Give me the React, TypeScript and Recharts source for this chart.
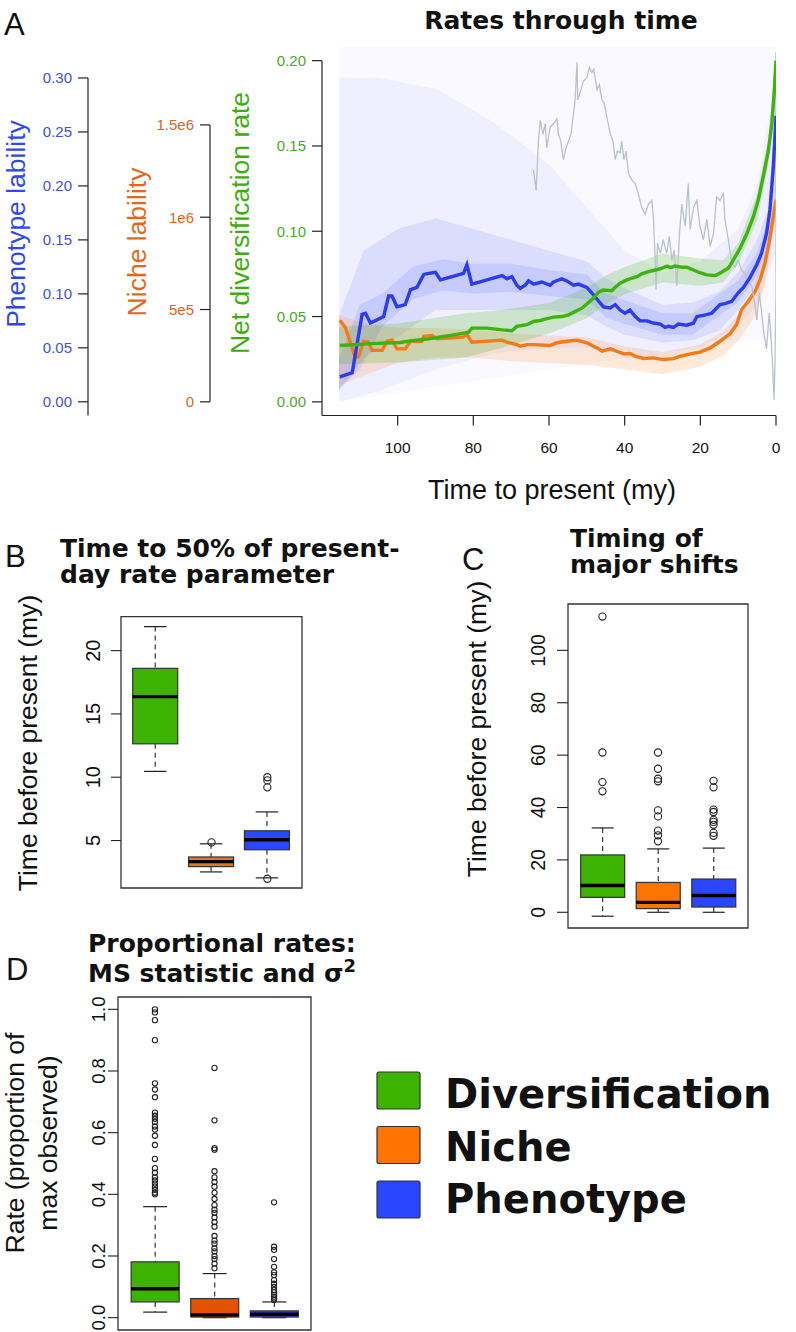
import React from 'react';
import { ComposedChart, Line, Area, Bar, Scatter, XAxis, YAxis, ReferenceArea } from 'recharts';

const GREEN = '#3cb300';
const ORANGE = '#ff7400';
const BLUE = '#2a46ff';
const GRAY = '#b9c1cc';

// ---- panel A: rates through time, [time (my), value] ----
const phenotypeRate: [number, number][] = [
  [115.3, 0.023], [112.0, 0.027], [109.4, 0.081], [108.5, 0.082], [107.2, 0.073], [103.7, 0.079],
  [102.4, 0.098], [101.5, 0.098], [100.2, 0.088], [98.0, 0.09], [96.6, 0.104], [94.9, 0.106],
  [93.1, 0.118], [91.8, 0.119], [90.0, 0.12], [88.7, 0.113], [85.6, 0.116], [82.6, 0.119],
  [81.7, 0.127], [80.4, 0.109], [77.3, 0.112], [72.4, 0.117], [71.1, 0.114], [69.8, 0.116],
  [68.5, 0.108], [67.6, 0.105], [66.3, 0.108], [65.4, 0.112], [64.1, 0.109], [61.9, 0.111],
  [59.7, 0.108], [58.8, 0.111], [56.6, 0.114], [55.3, 0.112], [53.5, 0.108], [52.2, 0.109],
  [50.0, 0.106], [48.7, 0.101], [47.3, 0.095], [45.6, 0.088], [43.8, 0.087], [42.5, 0.09],
  [41.2, 0.085], [39.9, 0.082], [38.6, 0.085], [37.2, 0.079], [35.9, 0.075], [34.1, 0.075],
  [32.4, 0.073], [30.6, 0.072], [29.3, 0.069], [28.4, 0.07], [27.1, 0.069], [25.8, 0.072],
  [23.6, 0.071], [21.8, 0.073], [20.9, 0.079], [19.2, 0.08], [17.0, 0.082], [14.8, 0.09],
  [13.5, 0.091], [11.7, 0.093], [10.0, 0.101], [8.6, 0.106], [6.9, 0.115], [5.1, 0.127],
  [3.8, 0.138], [2.5, 0.156], [1.6, 0.178], [0.7, 0.218], [0, 0.265],
];

const nicheRate: [number, number][] = [
  [115.3, 442000], [113.8, 401000], [112.5, 320000], [111.2, 238000], [110.3, 247000], [109.0, 328000],
  [107.7, 323000], [106.8, 279000], [104.1, 279000], [102.8, 328000], [101.5, 334000], [100.2, 287000],
  [98.0, 287000], [96.6, 328000], [93.6, 328000], [93.1, 355000], [90.9, 359000], [89.6, 341000],
  [85.6, 347000], [82.6, 352000], [81.7, 364000], [80.4, 323000], [72.4, 334000], [71.1, 323000],
  [68.5, 310000], [67.6, 301000], [65.8, 310000], [64.1, 310000], [59.7, 305000], [57.9, 320000],
  [55.3, 328000], [52.6, 334000], [50.0, 320000], [47.3, 292000], [46.0, 274000], [43.8, 287000],
  [42.1, 274000], [40.3, 260000], [38.6, 262000], [37.2, 247000], [35.0, 235000], [32.4, 238000],
  [29.8, 229000], [27.1, 234000], [25.3, 247000], [22.7, 260000], [20.1, 269000], [17.4, 292000],
  [14.8, 328000], [12.1, 370000], [10.4, 419000], [9.1, 500000], [7.3, 545000], [5.5, 599000],
  [4.2, 662000], [2.9, 753000], [2.0, 843000], [1.1, 951000], [0, 1095000],
];

const diversificationRate: [number, number][] = [
  [115.3, 0.0331], [111.6, 0.0335], [107.2, 0.0341], [102.8, 0.0345], [99.3, 0.0348], [95.8, 0.036],
  [92.2, 0.0368], [88.7, 0.038], [85.2, 0.0393], [82.6, 0.0403], [81.3, 0.0407], [80.4, 0.0432],
  [76.4, 0.0432], [72.4, 0.0422], [69.8, 0.0417], [68.5, 0.0442], [65.8, 0.0452], [64.1, 0.0471],
  [62.3, 0.0477], [61.0, 0.0485], [58.8, 0.0497], [56.6, 0.05], [54.8, 0.051], [53.1, 0.0529],
  [51.3, 0.0549], [50.0, 0.0574], [48.2, 0.0608], [46.9, 0.0643], [45.6, 0.0656], [43.4, 0.0652],
  [42.5, 0.0672], [41.2, 0.0695], [39.4, 0.0715], [38.1, 0.0725], [36.7, 0.0734], [35.5, 0.075],
  [33.7, 0.0763], [31.9, 0.0773], [30.2, 0.0783], [28.8, 0.0796], [27.9, 0.0787], [26.7, 0.0796],
  [24.9, 0.0789], [23.6, 0.0789], [21.8, 0.0773], [20.1, 0.0757], [18.3, 0.0744], [16.1, 0.074],
  [14.8, 0.0754], [13.5, 0.0773], [12.6, 0.0783], [11.3, 0.0831], [9.5, 0.09], [7.7, 0.0987],
  [6.0, 0.1084], [4.7, 0.1182], [3.4, 0.1318], [2.0, 0.1474], [1.1, 0.163], [0.5, 0.1805], [0, 0.2],
];

// grey background curve, read in diversification-axis units
const climateCurve: [number, number][] = [
  [64.1, 0.136], [63.4, 0.124], [62.8, 0.153], [62.3, 0.165], [61.6, 0.157], [61.0, 0.163], [60.6, 0.149],
  [59.7, 0.161], [58.8, 0.163], [57.9, 0.166], [57.5, 0.157], [56.9, 0.153], [56.2, 0.142], [55.5, 0.149],
  [54.8, 0.153], [54.2, 0.157], [53.5, 0.169], [53.1, 0.177], [52.6, 0.199], [52.4, 0.177], [51.8, 0.181],
  [50.9, 0.188], [50.0, 0.19], [49.3, 0.196], [48.7, 0.193], [48.2, 0.195], [47.3, 0.183], [46.7, 0.186],
  [46.0, 0.177], [45.4, 0.175], [44.7, 0.167], [43.8, 0.157], [43.1, 0.153], [42.5, 0.142], [41.9, 0.147],
  [41.2, 0.146], [40.8, 0.153], [40.2, 0.142], [39.6, 0.147], [39.0, 0.134], [38.1, 0.13], [37.2, 0.128],
  [36.4, 0.122], [35.5, 0.114], [34.6, 0.11], [33.7, 0.116], [32.8, 0.118], [32.4, 0.108], [32.0, 0.087],
  [31.7, 0.066], [31.3, 0.093], [30.6, 0.087], [29.8, 0.095], [28.9, 0.087], [28.2, 0.097], [27.5, 0.083],
  [26.9, 0.089], [26.2, 0.068], [25.5, 0.099], [24.9, 0.116], [24.0, 0.103], [23.2, 0.128], [22.7, 0.101],
  [21.8, 0.114], [20.9, 0.118], [20.1, 0.103], [19.2, 0.095], [18.3, 0.107], [17.4, 0.091], [16.5, 0.099],
  [15.7, 0.12], [14.8, 0.118], [13.9, 0.122], [13.5, 0.107], [12.6, 0.095], [11.7, 0.081], [10.8, 0.079],
  [10.0, 0.083], [9.1, 0.077], [8.2, 0.075], [7.3, 0.07], [6.4, 0.068], [5.5, 0.056], [5.1, 0.048],
  [4.4, 0.064], [3.8, 0.052], [3.2, 0.04], [2.5, 0.031], [1.8, 0.052], [1.4, 0.04], [0.9, 0.021],
  [0.5, 0.001], [0.3, 0.021], [0.0, 0.064], [0.0, 0.205],
];

// posterior density clouds, [time, low, high]
const phenotypeHaze: [number, number, number][] = [[115.5, 0.0, 0.3287], [60, 0.03, 0.3287], [0, 0.06, 0.3287]];
const phenotypeCloud: [number, number, number][] = [
  [115.5, 0.0, 0.3], [105, 0.01, 0.3], [90, 0.03, 0.29], [75, 0.045, 0.26], [60, 0.05, 0.22], [50, 0.05, 0.18],
  [40, 0.045, 0.14], [30, 0.04, 0.12], [20, 0.05, 0.13], [10, 0.07, 0.16], [5, 0.09, 0.2], [0, 0.14, 0.3],
];
const phenotypeCore: [number, number, number][] = [
  [115.5, 0.01, 0.08], [109, 0.04, 0.14], [100, 0.06, 0.16], [90, 0.085, 0.17], [80, 0.085, 0.16],
  [70, 0.085, 0.15], [60, 0.085, 0.14], [50, 0.08, 0.13], [45, 0.07, 0.115], [40, 0.062, 0.105],
  [30, 0.055, 0.09], [22, 0.057, 0.092], [15, 0.066, 0.102], [10, 0.085, 0.12], [5, 0.11, 0.15],
  [2, 0.14, 0.18], [0, 0.2, 0.28],
];
const phenotypeInner: [number, number, number][] = [
  [115.5, 0.012, 0.04], [110, 0.03, 0.09], [104, 0.07, 0.1], [96, 0.095, 0.125], [88, 0.103, 0.132],
  [80, 0.1, 0.128], [70, 0.102, 0.128], [60, 0.098, 0.122], [50, 0.095, 0.118], [45, 0.078, 0.1],
  [40, 0.072, 0.094], [30, 0.062, 0.082], [22, 0.062, 0.082], [15, 0.08, 0.1], [10, 0.092, 0.112],
  [5, 0.118, 0.138], [2, 0.148, 0.17], [0, 0.23, 0.27],
];
const nicheCloud: [number, number, number][] = [
  [115.5, 90000, 470000], [108, 150000, 420000], [100, 210000, 400000], [90, 240000, 400000],
  [80, 240000, 390000], [70, 220000, 370000], [60, 210000, 360000], [50, 200000, 350000],
  [40, 175000, 300000], [30, 150000, 270000], [20, 190000, 310000], [14, 250000, 380000],
  [10, 330000, 470000], [6, 450000, 620000], [3, 620000, 800000], [0, 1000000, 1170000],
];
const diversificationCloud: [number, number, number][] = [
  [115.5, 0.022, 0.044], [100, 0.023, 0.046], [82, 0.026, 0.052], [72, 0.032, 0.054], [60, 0.04, 0.058],
  [50, 0.049, 0.067], [45, 0.057, 0.074], [40, 0.063, 0.079], [30, 0.07, 0.087], [20, 0.068, 0.084],
  [14, 0.07, 0.083], [10, 0.081, 0.093], [5, 0.106, 0.122], [2, 0.139, 0.155], [0, 0.19, 0.205],
];

const timeTicks = [0, 20, 40, 60, 80, 100];
const phenotypeTicks = [0, 0.05, 0.1, 0.15, 0.2, 0.25, 0.3];
const nicheTicks = [0, 500000, 1000000, 1500000];
const nicheTickLabels = ['0', '5e5', '1e6', '1.5e6'];
const diversificationTicks = [0, 0.05, 0.1, 0.15, 0.2];

// ---- panels B, C, D: boxplots (Diversification, Niche, Phenotype) ----
const boxPositions = [1, 2, 3];

const halfLow = [10.46, 2.52, 2.05];
const halfQ1 = [12.64, 2.94, 4.27];
const halfMedian = [16.37, 3.33, 5.06];
const halfQ3 = [18.6, 3.7, 5.77];
const halfHigh = [21.9, 4.74, 7.26];
const halfOutliers = [[], [4.85], [10.0, 9.75, 9.2, 1.98]];
const halfTicks = [5, 10, 15, 20];

const shiftLow = [-1.5, 0, 0];
const shiftQ1 = [5.7, 1.4, 2.0];
const shiftMedian = [10.2, 3.8, 6.4];
const shiftQ3 = [21.9, 11.4, 12.7];
const shiftHigh = [32.2, 24.2, 24.5];
const shiftOutliers = [
  [112.9, 61.0, 49.7, 46.2],
  [61.0, 54.8, 51.0, 50.0, 38.9, 36.6, 31.2, 29.4, 27.1],
  [50.2, 47.7, 39.2, 38.3, 35.3, 34.5, 33.4, 30.3, 29.2],
];
const shiftTicks = [0, 20, 40, 60, 80, 100];

const propLow = [0.018, 0.0, 0.0];
const propQ1 = [0.051, 0.002, 0.002];
const propMedian = [0.094, 0.009, 0.011];
const propQ3 = [0.181, 0.062, 0.022];
const propHigh = [0.36, 0.143, 0.051];
const propOutliers = [
  [1.0, 0.99, 0.965, 0.9, 0.76, 0.74, 0.715, 0.665, 0.655, 0.645, 0.635, 0.62, 0.61, 0.59, 0.56, 0.515,
    0.485, 0.47, 0.455, 0.445, 0.435, 0.425, 0.415, 0.405, 0.4],
  [0.81, 0.64, 0.55, 0.545, 0.475, 0.455, 0.44, 0.425, 0.405, 0.385, 0.365, 0.35, 0.34, 0.325, 0.31,
    0.295, 0.265, 0.25, 0.24, 0.225, 0.215, 0.2, 0.19, 0.175, 0.16],
  [0.374, 0.23, 0.22, 0.19, 0.165, 0.147, 0.138, 0.122, 0.11, 0.1, 0.09, 0.082, 0.074, 0.068, 0.062, 0.057],
];
const propTicks = [0, 0.2, 0.4, 0.6, 0.8, 1.0];

const legendItems = ['Diversification', 'Niche', 'Phenotype'];

// ---- helpers ----
const toRows = (pts: [number, number][]) => pts.map(([t, v]) => ({ t, v }));
const toBand = (pts: [number, number, number][]) => pts.map(([t, lo, hi]) => ({ t, r: [lo, hi] }));

const A_TOP = 47;
const A_BOTTOM = 415.5;
const A_H = A_BOTTOM - A_TOP;
const PH_DOMAIN: [number, number] = [-0.0127, 0.3287];
const NI_DOMAIN: [number, number] = [-74000, 1922000];
const DV_DOMAIN: [number, number] = [-0.008, 0.208];

const sideTick = (color: string, fmt: (v: number) => string, domain: [number, number], top: number, toBottom: boolean) =>
  (p: any) => {
    const { x, y, payload } = p;
    const ax = x + 15;
    const v = payload.value;
    const ppu = A_H / (domain[1] - domain[0]);
    return (
      <g>
        <line x1={ax - 10} x2={ax} y1={y} y2={y} stroke="#222" strokeWidth={1.2} />
        <text x={x - 1} y={y} textAnchor="end" dominantBaseline="central" fill={color} fontSize={15}>
          {fmt(v)}
        </text>
        {v === 0 && (
          <line x1={ax} x2={ax} y1={y - (top - v) * ppu} y2={toBottom ? y + (v - domain[0]) * ppu : y} stroke="#222" strokeWidth={1.2} />
        )}
      </g>
    );
  };

const rotTick = (size: number, len: number, gap: number, fmt: (v: number) => string) => (p: any) => {
  const { x, y, payload } = p;
  return (
    <g>
      <line x1={x + gap} x2={x + gap + len} y1={y} y2={y} stroke="#222" strokeWidth={1.1} />
      <text transform={`translate(${x},${y}) rotate(-90)`} textAnchor="middle" fontSize={size} fill="#111">
        {fmt(payload.value)}
      </text>
    </g>
  );
};

const boxShape = (colors: string[], capFrac: number) => (p: any) => {
  const { x, y, width, height, payload, index } = p;
  const top = Math.min(y, y + height);
  const h = Math.abs(height);
  const { low, q1, med, q3, high } = payload;
  const k = h / (high - low);
  const py = (v: number) => top + (high - v) * k;
  const cx = x + width / 2;
  const cap = (width * capFrac) / 2;
  return (
    <g>
      <line x1={cx} x2={cx} y1={py(high)} y2={py(q3)} stroke="#222" strokeWidth={1.1} strokeDasharray="5 4" />
      <line x1={cx} x2={cx} y1={py(q1)} y2={py(low)} stroke="#222" strokeWidth={1.1} strokeDasharray="5 4" />
      <line x1={cx - cap} x2={cx + cap} y1={py(high)} y2={py(high)} stroke="#222" strokeWidth={1.2} />
      <line x1={cx - cap} x2={cx + cap} y1={py(low)} y2={py(low)} stroke="#222" strokeWidth={1.2} />
      <rect x={x} y={py(q3)} width={width} height={py(q1) - py(q3)} fill={colors[index]} stroke="#333" strokeWidth={1.2} />
      <line x1={x} x2={x + width} y1={py(med)} y2={py(med)} stroke="#000" strokeWidth={3.4} />
    </g>
  );
};

const circle = (r: number) => (p: any) => <circle cx={p.cx} cy={p.cy} r={r} fill="none" stroke="#222" strokeWidth={1.1} />;

type BoxProps = {
  left: number; top: number; width: number; height: number;
  margin: { top: number; right: number; bottom: number; left: number };
  axisWidth: number; domain: [number, number];
  low: number[]; q1: number[]; med: number[]; q3: number[]; high: number[];
  outliers: number[][]; ticks: number[]; fmt: (v: number) => string;
  colors: string[]; barSize: number; tickFont: number; tickLen: number; tickGap: number; r: number;
};

const BoxPanel = (b: BoxProps) => {
  const rows = boxPositions.map((pos, i) => ({
    pos, range: [b.low[i], b.high[i]], low: b.low[i], q1: b.q1[i], med: b.med[i], q3: b.q3[i], high: b.high[i],
  }));
  const pts = b.outliers.flatMap((vals, i) => vals.map((v) => ({ pos: boxPositions[i], v })));
  return (
    <div style={{ position: 'absolute', left: b.left, top: b.top }}>
      <ComposedChart width={b.width} height={b.height} data={rows} margin={b.margin}>
        <XAxis dataKey="pos" type="number" domain={[0.38, 3.62]} ticks={[1, 2, 3]} allowDataOverflow hide />
        <YAxis
          type="number" domain={b.domain} ticks={b.ticks} allowDataOverflow width={b.axisWidth}
          axisLine={false} tickLine={false} tickSize={b.tickLen} tickMargin={b.tickGap}
          tick={rotTick(b.tickFont, b.tickLen, b.tickGap, b.fmt)}
        />
        <ReferenceArea y1={b.domain[0]} y2={b.domain[1]} fill="none" stroke="#333" strokeWidth={1.3} ifOverflow="visible" />
        <Bar dataKey="range" barSize={b.barSize} isAnimationActive={false} shape={boxShape(b.colors, 0.5)} />
        <Scatter data={pts} dataKey="v" isAnimationActive={false} shape={circle(b.r)} />
      </ComposedChart>
    </div>
  );
};

const bold = '"DejaVu Sans", sans-serif';

const App = () => {
  const tf = (d: number) => (v: number) => v.toFixed(d);
  return (
    <div style={{ position: 'absolute', left: 0, top: 0, width: 796, height: 1332, background: '#fff', fontFamily: '"Liberation Sans", Arial, sans-serif' }}>
      {/* panel A */}
      <div style={{ position: 'absolute', left: 0, top: 0 }}>
        <ComposedChart width={796} height={470} margin={{ top: A_TOP, right: 20, bottom: 4.5, left: 0 }}>
          <XAxis
            dataKey="t" type="number" domain={[0, 120]} reversed allowDataOverflow ticks={timeTicks}
            height={50} tickSize={10} tickMargin={16}
            axisLine={{ stroke: '#222', strokeWidth: 1.2 }} tickLine={{ stroke: '#222', strokeWidth: 1.2 }}
            tick={{ fontSize: 15.5, fill: '#111' }}
          />
          <YAxis
            yAxisId="dv" type="number" domain={DV_DOMAIN} allowDataOverflow ticks={diversificationTicks} width={112}
            axisLine={false} tickLine={false} tickSize={10} tickMargin={5}
            tick={sideTick('#4aab1f', (v) => v.toFixed(2), DV_DOMAIN, 0.2, true)}
          />
          <YAxis
            yAxisId="ni" type="number" domain={NI_DOMAIN} allowDataOverflow ticks={nicheTicks} width={122}
            axisLine={false} tickLine={false} tickSize={10} tickMargin={5}
            tick={sideTick('#e0651c', (v) => nicheTickLabels[nicheTicks.indexOf(v)], NI_DOMAIN, 1500000, false)}
          />
          <YAxis
            yAxisId="ph" type="number" domain={PH_DOMAIN} allowDataOverflow ticks={phenotypeTicks} width={88}
            axisLine={false} tickLine={false} tickSize={10} tickMargin={5}
            tick={sideTick('#3f51d9', (v) => v.toFixed(2), PH_DOMAIN, 0.3, true)}
          />
          <Area yAxisId="ph" data={toBand(phenotypeHaze)} dataKey="r" type="linear" stroke="none" fill="#6a5cff" fillOpacity={0.035} isAnimationActive={false} />
          <Area yAxisId="ph" data={toBand(phenotypeCloud)} dataKey="r" type="linear" stroke="none" fill="#5050ff" fillOpacity={0.055} isAnimationActive={false} />
          <Area yAxisId="ph" data={toBand(phenotypeCore)} dataKey="r" type="linear" stroke="none" fill={BLUE} fillOpacity={0.1} isAnimationActive={false} />
          <Area yAxisId="ph" data={toBand(phenotypeInner)} dataKey="r" type="linear" stroke="none" fill={BLUE} fillOpacity={0.12} isAnimationActive={false} />
          <Area yAxisId="ni" data={toBand(nicheCloud)} dataKey="r" type="linear" stroke="none" fill={ORANGE} fillOpacity={0.15} isAnimationActive={false} />
          <Line yAxisId="ni" data={toRows(nicheRate)} dataKey="v" type="linear" stroke="#f47a18" strokeWidth={3.4} dot={false} isAnimationActive={false} />
          <Area yAxisId="dv" data={toBand(diversificationCloud)} dataKey="r" type="linear" stroke="none" fill={GREEN} fillOpacity={0.2} isAnimationActive={false} />
          <Line yAxisId="dv" data={toRows(climateCurve)} dataKey="v" type="linear" stroke={GRAY} strokeWidth={1.3} dot={false} isAnimationActive={false} />
          <Line yAxisId="ph" data={toRows(phenotypeRate)} dataKey="v" type="linear" stroke="#2b3cf2" strokeWidth={3.4} dot={false} isAnimationActive={false} />
          <Line yAxisId="dv" data={toRows(diversificationRate)} dataKey="v" type="linear" stroke="#3db30d" strokeWidth={3.4} dot={false} isAnimationActive={false} />
        </ComposedChart>
      </div>

      {/* panel B */}
      <BoxPanel
        left={60} top={600} width={260} height={300} margin={{ top: 16.7, right: 18, bottom: 12, left: 0 }}
        axisWidth={61} domain={[1.25, 22.68]} low={halfLow} q1={halfQ1} med={halfMedian} q3={halfQ3} high={halfHigh}
        outliers={halfOutliers} ticks={halfTicks} fmt={tf(0)} colors={[GREEN, '#e57520', BLUE]}
        barSize={45} tickFont={20} tickLen={10} tickGap={11} r={3.6}
      />
      {/* panel C */}
      <BoxPanel
        left={500} top={590} width={270} height={350} margin={{ top: 14, right: 22, bottom: 12, left: 0 }}
        axisWidth={68} domain={[-6.0, 117.7]} low={shiftLow} q1={shiftQ1} med={shiftMedian} q3={shiftQ3} high={shiftHigh}
        outliers={shiftOutliers} ticks={shiftTicks} fmt={tf(0)} colors={[GREEN, ORANGE, BLUE]}
        barSize={44} tickFont={19.5} tickLen={11} tickGap={12} r={3.6}
      />
      {/* panel D */}
      <BoxPanel
        left={60} top={985} width={270} height={347} margin={{ top: 12, right: 19, bottom: 2, left: 0 }}
        axisWidth={58} domain={[-0.04, 1.04]} low={propLow} q1={propQ1} med={propMedian} q3={propQ3} high={propHigh}
        outliers={propOutliers} ticks={propTicks} fmt={tf(1)} colors={[GREEN, '#e45200', BLUE]}
        barSize={48} tickFont={18.5} tickLen={10} tickGap={3} r={2.6}
      />

      {/* titles, axis names, legend */}
      <svg width={796} height={1332} style={{ position: 'absolute', left: 0, top: 0, pointerEvents: 'none' }}>
        <g fontSize={31} fill="#111">
          <text x={4} y={35}>A</text>
          <text x={5} y={567}>B</text>
          <text x={462} y={570}>C</text>
          <text x={6} y={980}>D</text>
        </g>
        <g fontFamily={bold} fontWeight="bold" fontSize={25} fill="#111">
          <text x={561} y={29} textAnchor="middle">Rates through time</text>
          <text x={60} y={557}>Time to 50% of present-</text>
          <text x={60} y={583}>day rate parameter</text>
          <text x={570} y={547}>Timing of</text>
          <text x={570} y={573}>major shifts</text>
          <text x={88} y={952}>Proportional rates:</text>
          <text x={88} y={982}>MS statistic and σ<tspan fontSize={18} dy={-10}>2</tspan></text>
        </g>
        <g fontSize={26.5}>
          <text transform="translate(24.5,224) rotate(-90)" textAnchor="middle" fill="#2d47f5">Phenotype lability</text>
          <text transform="translate(146,242) rotate(-90)" textAnchor="middle" fill="#e8661a">Niche lability</text>
          <text transform="translate(249,223) rotate(-90)" textAnchor="middle" fill="#3cae0c">Net diversification rate</text>
          <text x={552} y={499} textAnchor="middle" fill="#111" fontSize={27}>Time to present (my)</text>
        </g>
        <g fontSize={26.5} fill="#111" textAnchor="middle">
          <text transform="translate(37,743) rotate(-90)">Time before present (my)</text>
          <text transform="translate(486,729) rotate(-90)">Time before present (my)</text>
          <text transform="translate(24,1143) rotate(-90)">Rate (proportion of</text>
          <text transform="translate(57,1143) rotate(-90)">max observed)</text>
        </g>
        <g>
          {legendItems.map((name, i) => (
            <g key={name}>
              <rect x={377} y={1072 + i * 54.5} width={43} height={37} rx={2} fill={[GREEN, ORANGE, BLUE][i]} stroke="#333" strokeWidth={1.2} />
              <text x={445} y={1108 + i * 52.7} fontFamily={bold} fontWeight="bold" fontSize={40} fill="#111">{name}</text>
            </g>
          ))}
        </g>
      </svg>
    </div>
  );
};

export default App;
